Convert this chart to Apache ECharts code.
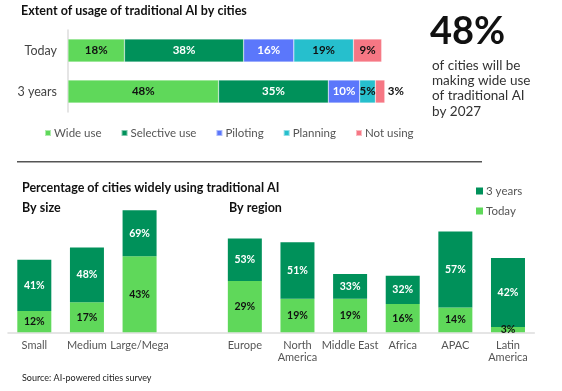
<!DOCTYPE html>
<html><head><meta charset="utf-8">
<script src="https://cdn.jsdelivr.net/npm/echarts@6/dist/echarts.min.js"></script>
<style>html,body{margin:0;padding:0;background:#fff}#c{width:562px;height:391px}</style>
</head><body><div id="c"></div>
<script>
// ---- Data ----
const usageCats = ['Today', '3 years'];
const usageNames = ['Wide use', 'Selective use', 'Piloting', 'Planning', 'Not using'];
const wideUse = [18, 48];
const selectiveUse = [38, 35];
const piloting = [16, 10];
const planning = [19, 5];
const notUsing = [9, 3];

const sizeCats = ['Small', 'Medium', 'Large/Mega'];
const sizeToday = [12, 17, 43];
const size3y = [41, 48, 69];
const regionCats = ['Europe', 'North\nAmerica', 'Middle East', 'Africa', 'APAC', 'Latin\nAmerica'];
const regionToday = [29, 19, 19, 16, 14, 3];
const region3y = [53, 51, 33, 32, 57, 42];

// ---- Styles ----
const FONT = 'Lato';
const C_LIGHT = '#5fd85a', C_DARK = '#00915a', C_BLUE = '#5b77fb', C_CYAN = '#26bfcd', C_PINK = '#f67784';
const usageColors = [C_LIGHT, C_DARK, C_BLUE, C_CYAN, C_PINK];
const usageLabelColors = ['#111', '#fff', '#fff', '#111', '#111'];
const usageData = [wideUse, selectiveUse, piloting, planning, notUsing];

const bottomCats = sizeCats.concat([''], regionCats);
const todayAll = sizeToday.concat(['-'], regionToday);
const threeAll = size3y.concat(['-'], region3y);
const threeDiff = threeAll.map((v, i) => v === '-' ? '-' : v - todayAll[i]);

const series = [];
usageNames.forEach((name, k) => {
  series.push({
    name, type: 'bar', stack: 'usage', xAxisIndex: 0, yAxisIndex: 0,
    barWidth: 23, clip: false,
    itemStyle: { color: usageColors[k], borderColor: 'rgba(255,255,255,0.5)', borderWidth: 0.5 },
    data: usageData[k].map((v, i) => (k === 4 && i === 1)
      ? { value: v, label: { position: 'right', distance: 3, color: '#111' } }
      : v),
    label: { show: true, position: 'inside', formatter: '{c}%', color: usageLabelColors[k],
      fontFamily: FONT, fontWeight: 'bold', fontSize: 11.5 }
  });
});
series.push({
  name: 'Today', type: 'bar', stack: 'wide', xAxisIndex: 1, yAxisIndex: 1, barWidth: 34,
  itemStyle: { color: C_LIGHT }, data: todayAll,
  label: { show: true, position: 'inside', formatter: '{c}%', color: '#111', fontFamily: FONT, fontWeight: 'bold', fontSize: 10.5 }
});
series.push({
  name: '3 years', type: 'bar', stack: 'wide', xAxisIndex: 1, yAxisIndex: 1, barWidth: 34,
  itemStyle: { color: C_DARK }, data: threeDiff,
  label: { show: true, position: 'inside', formatter: p => threeAll[p.dataIndex] + '%', color: '#fff', fontFamily: FONT, fontWeight: 'bold', fontSize: 10.5 }
});

const chart = echarts.init(document.getElementById('c'), null, { renderer: 'canvas' });
chart.setOption({
  animation: false,
  textStyle: { fontFamily: FONT },
  grid: [
    { left: 68, top: 30, width: 316.8, height: 82 },
    { left: 8, top: 155.5, width: 526.3, height: 176.8 }
  ],
  xAxis: [
    { gridIndex: 0, type: 'value', min: 0, max: 101, show: false },
    { gridIndex: 1, type: 'category', data: bottomCats,
      axisLine: { lineStyle: { color: '#dddddd', width: 1.5 } }, axisTick: { show: false },
      axisLabel: { color: '#555', fontSize: 11, margin: 7, lineHeight: 12, interval: 0 } }
  ],
  yAxis: [
    { gridIndex: 0, type: 'category', data: usageCats, inverse: true,
      axisLine: { lineStyle: { color: '#dddddd', width: 1.5 } }, axisTick: { show: false },
      axisLabel: { color: '#444', fontSize: 12.5, margin: 11 } },
    { gridIndex: 1, type: 'value', min: 0, max: 100, show: false }
  ],
  legend: [
    { data: usageNames, left: 44, top: 127, padding: 0, itemWidth: 6, itemHeight: 6, itemGap: 19,
      icon: 'rect', textStyle: { color: '#555', fontSize: 11.5, fontFamily: FONT, padding: [0, 0, 0, -2] } },
    { data: ['3 years', 'Today'], orient: 'vertical', left: 476, top: 185, padding: 0, itemWidth: 7, itemHeight: 7,
      itemGap: 8, icon: 'rect', textStyle: { color: '#555', fontSize: 11.5, fontFamily: FONT, padding: [0, 0, 0, -2] } }
  ],
  series,
  graphic: [
    { type: 'text', left: 21, top: 4, style: { text: 'Extent of usage of traditional AI by cities', fontFamily: FONT, fontWeight: 'bold', fontSize: 12.5, fill: '#111' } },
    { type: 'text', left: 430, top: 13, style: { text: '48%', fontFamily: FONT, fontWeight: 'bold', fontSize: 38, fill: '#111' } },
    { type: 'text', left: 432, top: 58, style: { text: 'of cities will be\nmaking wide use\nof traditional AI\nby 2027', fontFamily: FONT, fontSize: 13.5, lineHeight: 15.2, fill: '#333' } },
    { type: 'line', shape: { x1: 17, y1: 161.7, x2: 482, y2: 161.7 }, style: { stroke: '#555', lineWidth: 1.5 } },
    { type: 'text', left: 22, top: 181, style: { text: 'Percentage of cities widely using traditional AI', fontFamily: FONT, fontWeight: 'bold', fontSize: 12.5, fill: '#111' } },
    { type: 'text', left: 22, top: 201, style: { text: 'By size', fontFamily: FONT, fontWeight: 'bold', fontSize: 12.5, fill: '#111' } },
    { type: 'text', left: 229, top: 201, style: { text: 'By region', fontFamily: FONT, fontWeight: 'bold', fontSize: 12.5, fill: '#111' } },
    { type: 'text', left: 22, top: 374, style: { text: 'Source: AI-powered cities survey', fontFamily: FONT, fontSize: 9, fill: '#222' } }
  ]
});
</script></body></html>
